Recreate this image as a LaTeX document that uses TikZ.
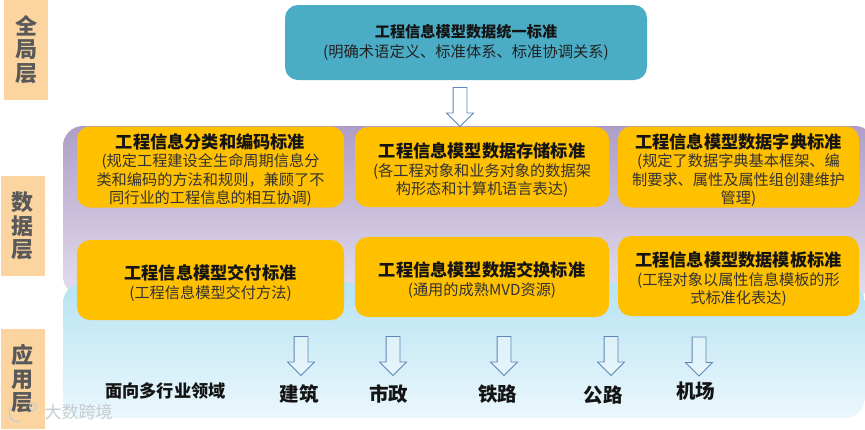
\documentclass[tikz,border=0pt]{standalone}
\usepackage{fontspec}
\setmainfont{Noto Sans CJK SC}
\usetikzlibrary{shapes.arrows}
\definecolor{teal1}{HTML}{4BACC6}
\definecolor{orange1}{HTML}{FFC000}
\definecolor{side1}{HTML}{FBD49F}
\definecolor{arrowline}{HTML}{5F86B8}
\definecolor{purpletop}{RGB}{174,158,199}
\definecolor{purplebot}{RGB}{228,222,238}
\definecolor{bluetop}{RGB}{183,227,242}
\definecolor{bluebot}{RGB}{235,247,252}
\definecolor{subtext}{HTML}{333333}
\definecolor{subtexttop}{HTML}{222222}
\definecolor{markgrey}{HTML}{C4CDD2}
\newcommand{\tl}[1]{{\fontsize{17.2}{20}\selectfont\bfseries #1}}
\newcommand{\sbl}[1]{{\fontsize{15.2}{18.6}\selectfont\color{subtext}#1}}
\newcommand{\pushdown}{\rule{0pt}{21pt}}
\tikzset{
  stdbox/.style={rectangle,rounded corners=13pt,fill=orange1,inner sep=0pt,align=center,text=black!92,
    font=\fontsize{14.6}{18.6}\selectfont},
  sidebox/.style={rectangle,fill=side1,inner sep=0pt,minimum width=44pt,minimum height=100pt,align=center,
    text=black!65,font=\fontsize{22}{23.6}\selectfont\bfseries},
  holarrow/.style={single arrow,shape border rotate=270,draw=arrowline,line width=0.8pt,fill=white,fill opacity=0.35,
    text opacity=1,inner sep=0pt,minimum width=26pt,minimum height=39pt,single arrow head extend=6.5pt,
    single arrow tip angle=90,text width=13pt},
  domainlabel/.style={inner sep=0pt,text=black!92,font=\fontsize{19.5}{22}\selectfont\bfseries},
}
\begin{document}
\begin{tikzpicture}[x=1pt,y=-1pt]
\useasboundingbox (0,0) rectangle (865,429);
\fill[white] (0,0) rectangle (865,429);
% panels
\path[top color=purpletop,bottom color=purplebot,rounded corners=20pt]
  (63,126) rectangle (875,296);
\path[top color=bluetop,bottom color=bluebot,rounded corners=20pt]
  (63,283) rectangle (865,418);
% side labels
\node[sidebox] (sideA) at (26,49.5) {全\\局\\层};
\node[sidebox] (sideB) at (22.5,226) {数\\据\\层};
\node[sidebox] (sideC) at (22.5,379) {应\\用\\层};
% top box
\node[stdbox,fill=teal1,minimum width=362pt,minimum height=75pt] (top) at (466,42.5)
  {{\fontsize{15.2}{18}\selectfont\bfseries 工程信息模型数据统一标准}\\[1pt]{\fontsize{15.3}{18}\selectfont\color{subtexttop}(明确术语定义、标准体系、标准协调关系)}};
% row 1
\node[stdbox,minimum width=267pt,minimum height=81pt] (a1) at (210.5,167)
  {\tl{\pushdown 工程信息分类和编码标准}\\\sbl{(规定工程建设全生命周期信息分}\\\sbl{类和编码的方法和规则，兼顾了不}\\\sbl{同行业的工程信息的相互协调)}};
\node[stdbox,minimum width=254pt,minimum height=80pt] (a2) at (482,167)
  {\tl{\pushdown 工程信息模型数据存储标准}\\\sbl{(各工程对象和业务对象的数据架}\\\sbl{构形态和计算机语言表达)}};
\node[stdbox,minimum width=241pt,minimum height=81pt] (a3) at (738.5,167)
  {\tl{\pushdown 工程信息模型数据字典标准}\\\sbl{(规定了数据字典基本框架、编}\\\sbl{制要求、属性及属性组创建维护}\\\sbl{管理)}};
% row 2
\node[stdbox,minimum width=267pt,minimum height=80pt] (b1) at (210.5,280)
  {\tl{\pushdown 工程信息模型交付标准}\\\sbl{(工程信息模型交付方法)}};
\node[stdbox,minimum width=254pt,minimum height=80pt] (b2) at (482,277)
  {\tl{\pushdown 工程信息模型数据交换标准}\\\sbl{(通用的成熟MVD资源)}};
\node[stdbox,minimum width=241pt,minimum height=80pt] (b3) at (738.5,276)
  {\tl{\pushdown 工程信息模型数据模板标准}\\\sbl{(工程对象以属性信息模板的形}\\\sbl{式标准化表达)}};
% arrows
\node[holarrow,fill opacity=1] (arrTop) at (460,103.5) {};
\node[holarrow] (arr1) at (301,352.5) {};
\node[holarrow] (arr2) at (393,352.5) {};
\node[holarrow] (arr3) at (504,352.5) {};
\node[holarrow] (arr4) at (611,352.5) {};
\node[holarrow] (arr5) at (699,353) {};
% labels
\node[domainlabel,font=\fontsize{17.2}{20}\selectfont\bfseries] (field) at (165.5,390.5) {面向多行业领域};
\node[domainlabel] (d1) at (299,394) {建筑};
\node[domainlabel] (d2) at (388.5,394) {市政};
\node[domainlabel] (d3) at (497.5,394) {铁路};
\node[domainlabel] (d4) at (603,395) {公路};
\node[domainlabel] (d5) at (695.5,391) {机场};
% watermark
\node[inner sep=0pt,text=markgrey,font=\fontsize{17}{20}\selectfont] (mark) at (78.5,412) {大数跨境};
\draw[markgrey,line width=1.3pt] (10,407) .. controls (8,417) and (12,424) .. (20,421);
\draw[markgrey,line width=1pt] (33,407) circle (3.5pt);
\end{tikzpicture}
\end{document}
